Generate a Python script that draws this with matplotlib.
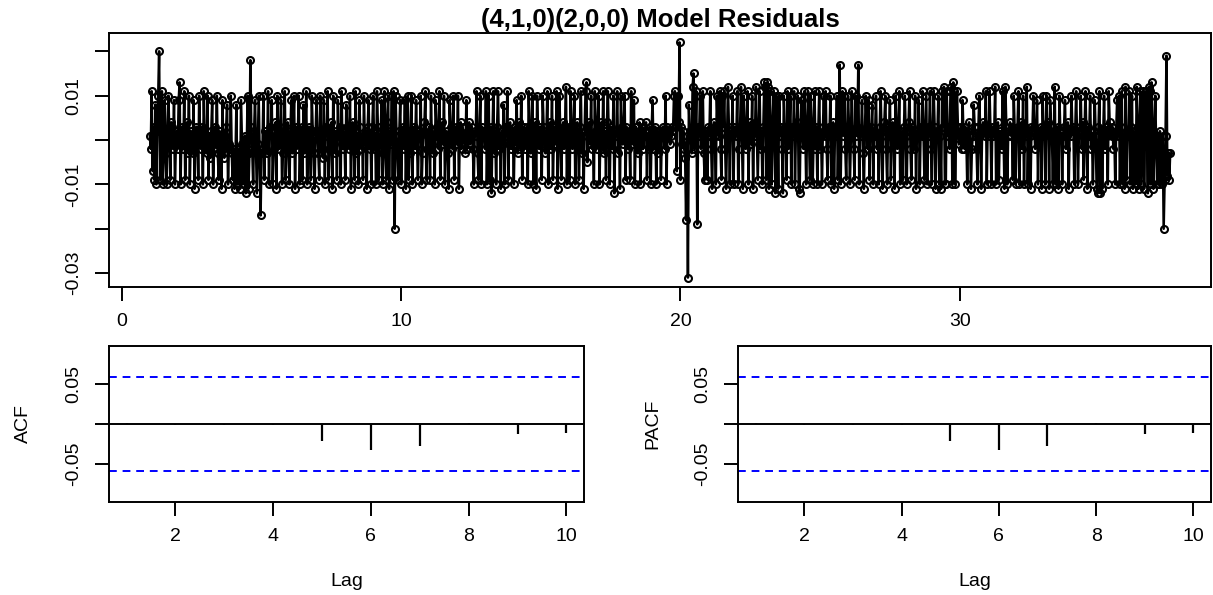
import numpy as np
import matplotlib
matplotlib.use("Agg")
import matplotlib.pyplot as plt

plt.rcParams['font.family'] = ['Liberation Sans', 'DejaVu Sans']

# residuals, in thousandths, one row per time unit (30 obs)
resid_rows = [
    [1, -2, 11, -7, 3, -9, 8, -10, 2, 10, 20, -9, 3, 11, -10, -2, 9, -3, -10, 2, 10, 1, -9, 4, 3, -2, 9, -10, -1, 2],
    [-2, 9, 13, -10, 2, 3, -2, 11, -9, 1, 4, -3, 10, -10, 2, -1, -3, 9, -11, 1, 3, 2, -9, 10, 2, -2, 3, -10, 11, -1],
    [-2, -3, 10, -9, 1, -4, 2, 9, -10, -2, 3, -1, 10, -3, -9, 2, -2, -11, 9, -2, -4, 1, 3, 8, -10, -1, -2, 10, -3, -9],
    [-2, -11, -4, 8, -10, -3, -2, -11, 9, -1, -10, -4, 1, -12, -3, 10, -11, -3, 18, 3, -2, -10, 2, 9, -2, -12, -1, 10, -3, -17],
    [-3, -2, 10, -9, 2, 1, -3, 11, -10, 3, 2, 9, -10, -2, 1, 4, -11, 10, -1, -2, 3, 9, -10, -3, 2, 11, -9, 1, 4, -2],
    [-10, 2, 9, -3, 1, 10, -11, 3, -2, 2, 10, -10, -1, 3, -9, 8, -3, 1, 11, -10, -2, 3, -1, -9, 10, 2, -3, -11, 1, 9],
    [2, -3, -9, 10, 1, -2, -4, 9, -10, 3, 1, 11, -9, -2, 2, 4, -11, 10, -1, -3, 2, -9, 9, 1, 3, -10, 11, -2, 2, 1],
    [-9, 8, 3, -1, -2, 10, -11, 2, 4, 1, -9, 11, -3, 1, -10, 9, 3, -2, 1, -9, 10, -1, 2, -11, 3, 9, -2, 1, -10, 3],
    [10, -2, 1, -10, 11, 3, -9, -1, 2, 9, -10, -3, 11, 2, -9, 4, 10, -11, 2, -1, 10, -9, 11, -20, 10, 1, -3, -9, 2, 9],
    [-10, 2, 3, -2, 9, -11, 1, 10, -9, -3, 2, 10, -10, 1, 3, -2, 9, -1, -9, 2, 1, 10, -10, -3, 2, 4, 11, -9, -2, 1],
    [3, -9, 10, -1, -3, 2, -10, 9, 3, 1, -2, 11, -9, 2, 4, -1, 10, -10, 1, 2, -3, -11, 9, 3, -1, -2, 10, -9, 1, 3],
    [-1, 10, -11, 2, 4, -2, 3, 1, -1, -3, 9, -2, 2, 4, -1, 1, 3, -2, -10, 2, 1, 11, -3, -9, 2, 10, -10, 3, 1, 2],
    [-2, 11, -10, 1, 10, -9, 3, -12, 1, 11, -3, 2, -10, 3, 11, -2, 1, -11, 2, -1, 8, -10, 3, 1, 11, -9, 2, 4, -2, 2],
    [1, -10, 3, -1, 9, -3, 2, 4, -2, 10, -9, 1, 3, -2, 1, 3, -10, 11, 2, -3, 1, 10, -10, 2, 4, -11, 10, 1, -2, 3],
    [1, -9, 10, 3, -1, -3, 2, 11, -10, 2, 4, -2, 10, -9, 1, 3, -1, 11, -11, 2, 10, 1, -9, 2, 4, -2, 3, 12, -10, 1],
    [3, -9, 11, 2, -2, 1, 10, -10, 2, 4, -1, -9, 3, 11, -3, 1, -11, 2, 11, 13, -5, 2, 4, -1, 10, -2, 1, -10, 11, 2],
    [-2, 3, 10, -10, 1, 4, -2, 11, -3, 2, -9, 4, 11, 1, -10, 3, 1, -2, 10, -12, 2, 1, 11, -3, 2, -11, 10, 3, -1, 2],
    [10, -9, 3, 1, -2, 2, -9, 11, 2, -1, 9, -10, 3, 1, -3, 2, 4, -10, 1, 3, -2, 1, 2, 4, -9, 1, -2, 3, -10, 2],
    [9, -2, 1, 3, -10, 2, -3, 1, 2, -9, 2, 3, 1, -2, 10, -10, 3, 1, 2, -1, 1, 3, 2, 10, 11, 3, -7, 10, 4, 22],
    [-9, 3, -1, 2, -2, -4, -18, 1, -31, 8, 2, 1, -3, 12, 15, -2, 1, 11, -19, 3, 1, 10, -2, 2, 11, -3, -9, 2, 1, -9],
    [3, 1, 11, -2, -11, 2, 4, 1, -10, 10, 3, 1, 11, -2, -9, 10, 3, 11, -2, -11, 1, 12, 3, -10, 2, 1, 10, -10, 3, 2],
    [1, 11, -10, -2, 3, 12, 1, -11, 10, 3, -2, 1, 11, -10, 2, 4, -1, 10, -11, 3, 1, 12, 2, -9, 1, 11, -2, 2, -10, 3],
    [13, 12, -9, 13, 12, -11, 11, 2, -10, 3, 11, 1, -12, 10, 3, -11, 10, 1, 3, -2, -12, 10, 3, 1, -9, 11, -2, 2, 10, -10],
    [3, 1, 11, -10, 2, 4, 10, -11, -12, 3, 9, 1, -2, 11, 3, -10, 2, 11, 1, -9, 10, 3, -10, 1, 11, -2, 3, -10, 2, 11],
    [-2, 1, -10, 3, 10, 1, 11, -2, -9, 3, 1, 10, -10, 2, 4, -11, 3, 1, 10, -9, 2, 17, -10, 3, 11, 1, 10, -2, -9, 2],
    [10, 3, -10, 1, 11, 2, -2, -9, 10, 1, 3, 17, -10, 2, 1, 9, -3, -11, 1, 10, 3, -2, 9, -9, 2, 3, 8, -10, 2, 1],
    [10, -2, 1, -10, 3, 11, 1, -11, 2, 4, 10, -2, -10, 3, 1, 9, -9, 2, 4, 1, -11, 10, 3, -2, 1, 11, -10, 2, 1, -9],
    [3, 10, 1, -10, 2, 4, 11, -2, -9, 3, 1, -2, 10, -11, 2, 1, 9, -10, 3, 1, 11, 2, -9, 1, 10, -10, 3, 1, 11, -2],
    [-10, 2, 11, 3, -11, 1, 2, 10, -10, 1, -11, 11, 3, 12, -10, -10, 11, 1, 3, -2, 11, 12, -10, 13, 11, -10, 2, 11, 3, -1],
    [1, 3, -2, 9, 1, -2, 3, 1, -10, 2, 4, 1, -11, -2, 1, 8, 3, 1, -2, -10, 3, 10, 1, -11, 2, 4, 3, 1, 11, -10],
    [3, 1, 11, 2, -10, 3, 1, 2, 12, -10, 1, 4, -9, 2, 1, -2, 11, 1, -11, 12, 3, -10, 1, 2, 4, 1, 3, -9, 10, 2],
    [-10, 1, 3, 11, -10, 2, 4, -2, 10, -10, 3, 1, 12, -10, 2, 1, -11, 3, 2, 10, 3, -2, 1, 9, -10, 2, 1, 3, -11, 10],
    [1, 3, -10, 10, 2, 4, -11, 9, 3, 1, -10, 2, 12, -10, 1, 3, -11, 10, 2, 1, -10, 1, 3, 9, -2, 1, 4, -11, 2, 1],
    [10, 2, 3, -10, 2, 11, 1, -10, 2, 3, 10, -2, 4, -9, 2, 11, 1, -11, 3, 1, 10, -2, 1, -10, 2, 9, 1, -11, -12, 3],
    [11, -12, 2, -11, 1, 10, -2, 3, 1, -10, 11, 4, 2, 1, 3, -2, 1, -10, 2, 9, 1, 10, -10, 3, 11, -10, 1, -11, 12, -9],
    [2, 1, 11, -10, 3, 10, -11, 2, 1, -10, 12, 3, -11, 2, 11, -10, 1, 11, -11, 2, 11, 3, -12, 12, 11, -10, 13, 2, -11, 1],
    [10, -2, -10, 1, -10, 2, -3, -10, 1, -20, -9, 1, 19, -8, -3, -9, -3],
]
ts_start = 1.0
ts_freq = 30

acf_lags = [1, 2, 3, 4, 5, 6, 7, 8, 9, 10]
acf_vals = [0.001, -0.001, -0.0015, -0.0015, -0.021, -0.033, -0.028, 0.001, -0.012, -0.011]
pacf_vals = [0.001, -0.001, -0.0015, -0.0015, -0.021, -0.033, -0.028, 0.001, -0.012, -0.011]
ci = 0.0592

resid = np.concatenate([np.array(r, dtype=float) for r in resid_rows]) / 1000.0
t = ts_start + np.arange(len(resid)) / ts_freq

W, H = 1213, 595
fig = plt.figure(figsize=(W / 100, H / 100), dpi=100)


def add_ax(l, t_, r, b):
    return fig.add_axes([l / W, 1 - b / H, (r - l) / W, (b - t_) / H])


def r_style(ax):
    for s in ax.spines.values():
        s.set_linewidth(1.4)
    ax.tick_params(direction='out', length=10, width=1.4, labelsize=14, pad=9,
                   top=False, right=False)
    for lab in ax.get_yticklabels():
        lab.set_rotation(90)
        lab.set_va('center')


def r_lim(lo, hi):
    pad = 0.04 * (hi - lo)
    return lo - pad, hi + pad


# top: residual series
ax = add_ax(109, 33, 1211, 287)
ax.plot(t, resid, color='black', lw=1.8, marker='o', ms=5, mfc='none',
        mec='black', mew=1.5)
ax.set_xlim(*r_lim(t[0], t[-1]))
ax.set_ylim(*r_lim(resid.min(), resid.max()))
ax.set_xticks([0, 10, 20, 30])
ax.set_yticks([-0.03, -0.02, -0.01, 0.0, 0.01, 0.02])
ax.set_yticklabels(['-0.03', '', '-0.01', '', '0.01', ''])
r_style(ax)
fig.text((109 + 1211) / 2 / W, 1 - 20 / H, '(4,1,0)(2,0,0) Model Residuals',
         ha='center', va='center', fontsize=18.5, fontweight='bold')


def corr_panel(box, vals, ylab):
    a = add_ax(*box)
    a.axhline(0, color='black', lw=1.4)
    a.vlines(acf_lags, 0, vals, color='black', lw=1.6)
    a.axhline(ci, color='blue', lw=1.4, ls=(0, (4, 3)))
    a.axhline(-ci, color='blue', lw=1.4, ls=(0, (4, 3)))
    a.set_xlim(*r_lim(acf_lags[0], acf_lags[-1]))
    a.set_ylim(-0.0975, 0.0975)
    a.set_xticks([2, 4, 6, 8, 10])
    a.set_yticks([-0.05, 0.0, 0.05])
    a.set_yticklabels(['-0.05', '', '0.05'])
    a.set_xlabel('Lag', fontsize=14, labelpad=20)
    a.set_ylabel(ylab, fontsize=14, labelpad=24)
    r_style(a)
    return a


corr_panel((109, 346, 584, 502), acf_vals, 'ACF')
corr_panel((738, 346, 1211, 502), pacf_vals, 'PACF')

fig.savefig('out.png', dpi=100)
